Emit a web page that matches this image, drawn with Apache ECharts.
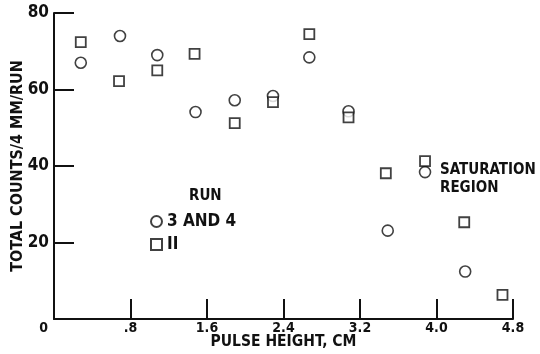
<!DOCTYPE html>
<html>
<head>
<meta charset="utf-8">
<script src="https://cdn.jsdelivr.net/npm/echarts@6/dist/echarts.min.js"></script>
<style>
  html, body { margin: 0; padding: 0; background: #fff; }
  #chart { width: 540px; height: 354px; }
</style>
</head>
<body>
<div id="chart"></div>
<script>
  // pulse height (cm) and total counts per 4 mm per run
  var run34X = [0.28, 0.69, 1.08, 1.48, 1.89, 2.29, 2.67, 3.08, 3.49, 3.88, 4.30];
  var run34Y = [67.0, 74.0, 69.0, 54.1, 57.2, 58.3, 68.4, 54.3, 23.1, 38.4, 12.4];
  var run11X = [0.28, 0.68, 1.08, 1.47, 1.89, 2.29, 2.67, 3.08, 3.47, 3.88, 4.29, 4.69];
  var run11Y = [72.4, 62.2, 65.0, 69.3, 51.2, 56.7, 74.5, 52.7, 38.1, 41.3, 25.3, 6.3];
  var xTicks = ['0', '.8', '1.6', '2.4', '3.2', '4.0', '4.8'];

  var ink = '#111';
  var font = '"DejaVu Sans Condensed", "DejaVu Sans", sans-serif';

  function pairs(xs, ys) {
    var out = [];
    for (var i = 0; i < xs.length; i++) {
      out.push([xs[i], ys[i]]);
    }
    return out;
  }

  var myChart = echarts.init(document.getElementById('chart'));
  myChart.setOption({
    animation: false,
    backgroundColor: '#fff',
    grid: {
      left: 54,
      right: 27,
      top: 13,
      bottom: 35,
      outerBoundsMode: 'none'
    },
    xAxis: {
      type: 'value',
      min: 0,
      max: 4.8,
      interval: 0.8,
      name: 'PULSE HEIGHT, CM',
      nameLocation: 'middle',
      nameGap: 15,
      nameMoveOverlap: false,
      nameTextStyle: { color: ink, fontFamily: font, fontWeight: 'bold', fontSize: 15.5 },
      splitLine: { show: false },
      axisLine: { lineStyle: { color: ink, width: 2 } },
      axisTick: { inside: true, length: 20, lineStyle: { color: ink, width: 2 } },
      axisLabel: {
        color: ink,
        fontFamily: font,
        fontWeight: 'bold',
        fontSize: 14,
        margin: 2,
        alignMinLabel: 'right',
        formatter: function (v) {
          var i = Math.round(v / 0.8);
          return i === 0 ? '{z|' + xTicks[i] + '}' : xTicks[i];
        },
        rich: {
          z: { padding: [0, 6, 0, 0], color: ink, fontFamily: font, fontWeight: 'bold', fontSize: 14 }
        }
      }
    },
    yAxis: {
      type: 'value',
      min: 0,
      max: 80,
      interval: 20,
      name: 'TOTAL COUNTS/4 MM/RUN',
      nameLocation: 'middle',
      nameGap: 28,
      nameMoveOverlap: false,
      nameTextStyle: { color: ink, fontFamily: font, fontWeight: 'bold', fontSize: 16 },
      splitLine: { show: false },
      axisLine: { show: true, lineStyle: { color: ink, width: 2 } },
      axisTick: { show: true, inside: true, length: 20, lineStyle: { color: ink, width: 2 } },
      axisLabel: {
        color: ink,
        fontFamily: font,
        fontWeight: 'bold',
        fontSize: 17,
        margin: 5,
        showMinLabel: false
      }
    },
    legend: {
      orient: 'vertical',
      left: 150,
      top: 213,
      padding: 0,
      itemWidth: 11,
      itemHeight: 11,
      itemGap: 6,
      textStyle: { color: ink, fontFamily: font, fontWeight: 'bold', fontSize: 17 },
      data: [
        { name: '3 AND 4', icon: 'circle' },
        { name: 'II', icon: 'rect' }
      ]
    },
    graphic: [
      {
        type: 'text', left: 189, top: 189,
        style: { text: 'RUN', fill: ink, font: 'bold 15px ' + font }
      },
      {
        type: 'text', left: 440, top: 163,
        style: { text: 'SATURATION', fill: ink, font: 'bold 15px ' + font }
      },
      {
        type: 'text', left: 440, top: 181,
        style: { text: 'REGION', fill: ink, font: 'bold 15px ' + font }
      }
    ],
    series: [
      {
        name: '3 AND 4',
        type: 'scatter',
        symbol: 'circle',
        symbolSize: 11,
        itemStyle: { color: '#fff', borderColor: ink, borderWidth: 1.6 },
        data: pairs(run34X, run34Y)
      },
      {
        name: 'II',
        type: 'scatter',
        symbol: 'rect',
        symbolSize: 10,
        itemStyle: { color: '#fff', borderColor: ink, borderWidth: 1.8 },
        data: pairs(run11X, run11Y)
      }
    ]
  });
</script>
</body>
</html>
